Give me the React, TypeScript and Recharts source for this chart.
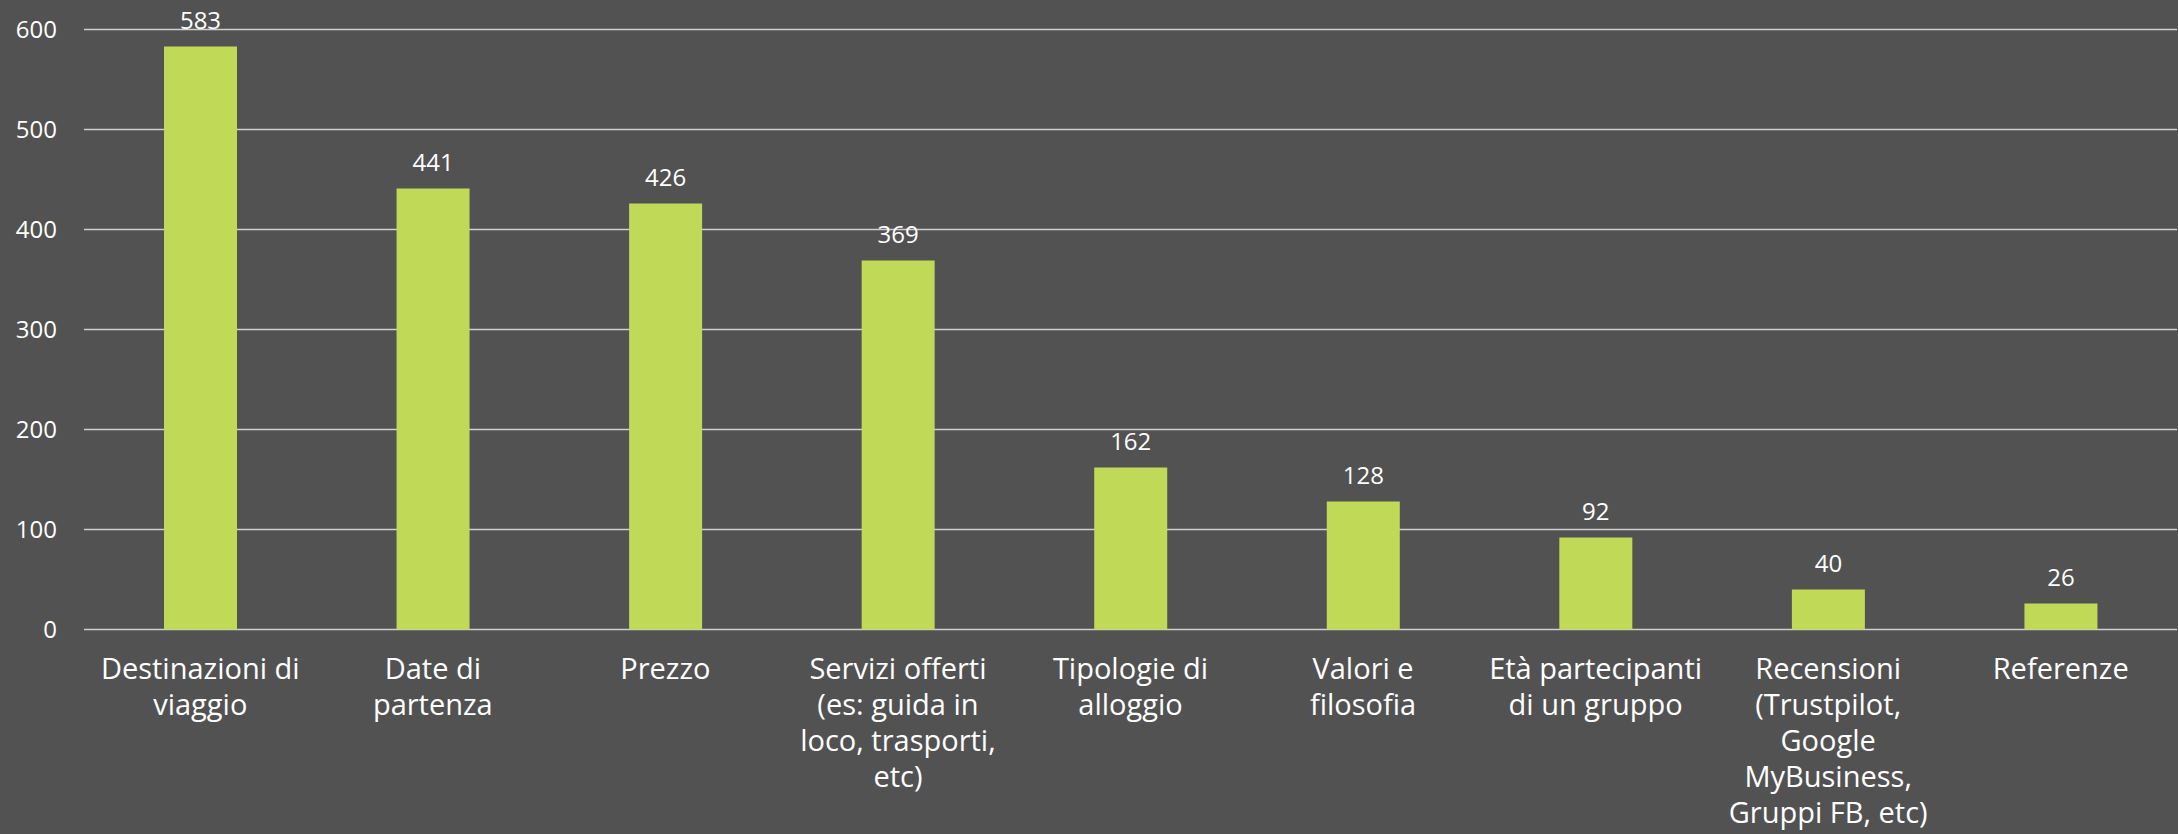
import { BarChart, Bar, XAxis, YAxis, CartesianGrid, LabelList } from 'recharts'

// categorie (con a capo come nel grafico originale)
const categories = [
  'Destinazioni di\nviaggio',
  'Date di\npartenza',
  'Prezzo',
  'Servizi offerti\n(es: guida in\nloco, trasporti,\netc)',
  'Tipologie di\nalloggio',
  'Valori e\nfilosofia',
  'Età partecipanti\ndi un gruppo',
  'Recensioni\n(Trustpilot,\nGoogle\nMyBusiness,\nGruppi FB, etc)',
  'Referenze',
]

const values = [583, 441, 426, 369, 162, 128, 92, 40, 26]

const yTicks = [0, 100, 200, 300, 400, 500, 600]

const FONT = '"Open Sans", "Noto Sans", sans-serif'
const TEXT = '#ffffff'

const data = categories.map((name, i) => ({ name, value: values[i] }))

function CategoryTick({ x, y, payload }: any) {
  const lines = String(payload.value).split('\n')
  return (
    <text x={x} y={y} textAnchor="middle" fill={TEXT} fontSize={29} fontFamily={FONT}>
      {lines.map((line, i) => (
        <tspan key={i} x={x} dy={i === 0 ? 41.5 : 36}>
          {line}
        </tspan>
      ))}
    </text>
  )
}

function ValueTick({ x, y, payload }: any) {
  return (
    <text x={x - 19} y={y + 8.5} textAnchor="end" fill={TEXT} fontSize={24} fontFamily={FONT}>
      {payload.value}
    </text>
  )
}

export default function App() {
  return (
    <div style={{ position: 'absolute', top: 0, left: 0, width: 2178, height: 834, background: '#525252', overflow: 'hidden' }}>
      <BarChart
        width={2178}
        height={834}
        data={data}
        margin={{ top: 29.5, right: 1, bottom: 0, left: 0 }}
        barSize={73}
      >
        <CartesianGrid vertical={false} stroke="#cfcfcf" strokeWidth={1.5} />
        <XAxis
          dataKey="name"
          axisLine={false}
          tickLine={false}
          interval={0}
          height={204.5}
          tick={<CategoryTick />}
        />
        <YAxis
          width={84}
          domain={[0, 600]}
          ticks={yTicks}
          axisLine={false}
          tickLine={false}
          tick={<ValueTick />}
        />
        <Bar dataKey="value" fill="#c0da58" isAnimationActive={false}>
          <LabelList
            dataKey="value"
            position="top"
            offset={18}
            fill={TEXT}
            fontSize={24}
            fontFamily={FONT}
          />
        </Bar>
      </BarChart>
    </div>
  )
}
